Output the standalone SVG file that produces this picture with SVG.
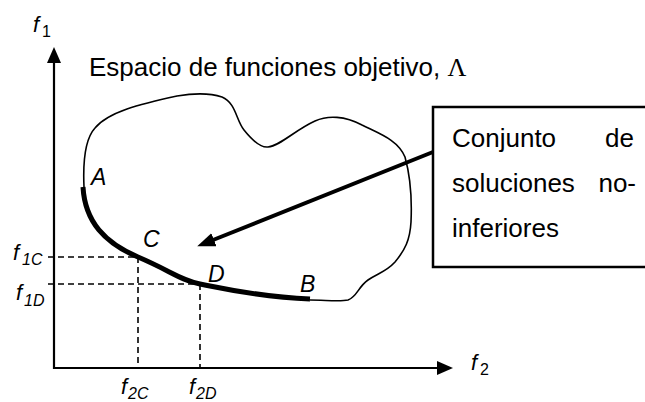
<svg xmlns="http://www.w3.org/2000/svg" width="645" height="402" viewBox="0 0 645 402">
<style>
.t{font-family:"Liberation Sans",Arial,sans-serif;fill:#000}
.it{font-family:"Liberation Sans",Arial,sans-serif;font-style:italic;fill:#000}
.lbl{font-size:23px}
.sub{font-size:16px}
.dash{stroke:#000;stroke-width:1.6;stroke-dasharray:6 4;fill:none}
.ax{stroke:#000;stroke-width:2.2;fill:none}
.bt{font-size:26px}
</style>
<defs>
<marker id="ah" viewBox="0 0 16 14" refX="1" refY="7" markerWidth="16" markerHeight="14" orient="auto" markerUnits="userSpaceOnUse">
<path d="M0,0 L16,7 L0,14 z" fill="#000"/>
</marker>
<marker id="ah2" viewBox="0 0 18 14" refX="1" refY="7" markerWidth="18" markerHeight="14" orient="auto" markerUnits="userSpaceOnUse">
<path d="M0,0 L18,7 L0,14 z" fill="#000"/>
</marker>
</defs>
<rect width="645" height="402" fill="#fff"/>

<g id="axes">
<line class="ax" x1="54" y1="369" x2="54" y2="62" marker-end="url(#ah)"/>
<line class="ax" x1="53" y1="368" x2="438" y2="368" marker-end="url(#ah)"/>
<text class="it" x="33" y="32" font-size="22">f</text>
<text class="t sub" x="42" y="37">1</text>
<text class="it" x="471" y="370" font-size="22">f</text>
<text class="t sub" x="480" y="375">2</text>
</g>

<g id="title">
<text class="t" x="89" y="76" font-size="26">Espacio de funciones objetivo, <tspan font-family="'Liberation Serif',serif">Λ</tspan></text>
</g>

<g id="region">
<path d="M84,187 C83,165 84,140 95,128 C108,112 140,104 177,96 C195,93 210,93 222,97 C236,103 236,120 244,130 C252,140 260,148 268,147 C280,146 295,130 315,121 C328,115 345,116 362,125 C380,134 398,140 405,157 C410,175 412,200 411,222 C410,240 405,250 395,262 C386,272 378,273 368,280 C358,287 357,297 348,300 C340,302 325,300 310,300" fill="none" stroke="#000" stroke-width="1.6"/>
<path d="M83,187 C85,222 105,243 138,257 S180,280 200,284 S260,297 310,299" fill="none" stroke="#000" stroke-width="5"/>
<text class="it lbl" x="91" y="185">A</text>
<text class="it lbl" x="143" y="247">C</text>
<text class="it lbl" x="208" y="282">D</text>
<text class="it lbl" x="300" y="292">B</text>
</g>

<g id="projections">
<line class="dash" x1="48" y1="257" x2="138" y2="257"/>
<line class="dash" x1="138" y1="257" x2="138" y2="368"/>
<line class="dash" x1="48" y1="284" x2="200" y2="284"/>
<line class="dash" x1="200" y1="284" x2="200" y2="368"/>
<text class="it" x="13" y="260" font-size="22">f</text>
<text class="it sub" x="22" y="265">1C</text>
<text class="it" x="16" y="300" font-size="22">f</text>
<text class="it sub" x="24" y="306">1D</text>
<text class="it" x="121" y="394" font-size="22">f</text>
<text class="it sub" x="128" y="399">2C</text>
<text class="it" x="189" y="394" font-size="22">f</text>
<text class="it sub" x="196" y="399">2D</text>
</g>

<g id="box">
<rect x="433" y="107" width="215" height="160" fill="#fff" stroke="#000" stroke-width="2.5"/>
<text class="t bt" x="452" y="147">Conjunto</text>
<text class="t bt" x="634" y="147" text-anchor="end">de</text>
<text class="t bt" x="452" y="192">soluciones</text>
<text class="t bt" x="636" y="192" text-anchor="end">no-</text>
<text class="t bt" x="452" y="237">inferiores</text>
</g>

<g id="connectors">
<line x1="433" y1="152" x2="213" y2="240" stroke="#000" stroke-width="4" marker-end="url(#ah2)"/>
</g>
</svg>
